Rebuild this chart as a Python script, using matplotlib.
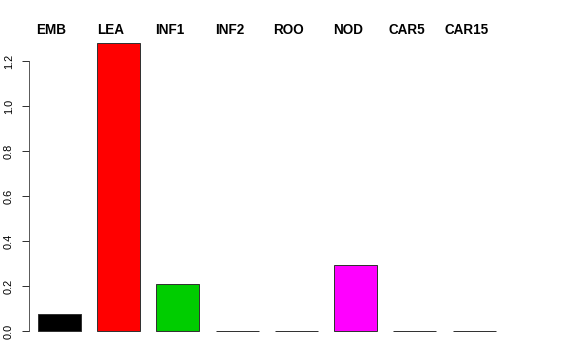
import numpy as np
import matplotlib.pyplot as plt

plt.rcParams['font.family'] = ['Liberation Sans', 'DejaVu Sans']

groups = ["EMB", "LEA", "INF1", "INF2", "ROO", "NOD", "CAR5", "CAR15"]
values = [0.075, 1.28, 0.207, 0.0, 0.0, 0.295, 0.0, 0.0]
colors = ["black", "red", "#00CD00", "blue", "cyan", "magenta", "yellow", "gray"]
yticks = [0.0, 0.2, 0.4, 0.6, 0.8, 1.0, 1.2]

W, H = 576, 360
fig = plt.figure(figsize=(W / 72, H / 72), dpi=72)
# axes placed in pixel terms (R barplot look)
left, right, top, bottom = 29, 528, 20, 345
ax = fig.add_axes([left / W, (H - bottom) / H, (right - left) / W, (bottom - top) / H])

x = 0.7 + 1.2 * np.arange(len(groups))
ax.bar(x, values, width=0.87, color=colors, edgecolor="#333333", linewidth=1.0)

ax.set_xlim(0.082, 0.082 + (right - left) / 49.35)
ax.set_ylim(-14 / 225, (331 - top) / 225)

for s in ["top", "right", "bottom"]:
    ax.spines[s].set_visible(False)
ax.spines["left"].set_bounds(0, 1.2)
ax.spines["left"].set_color("#333333")
ax.set_xticks([])
ax.set_yticks(yticks)
ax.set_yticklabels([f"{t:.1f}" for t in yticks], rotation=90, va="center", fontsize=11)
ax.tick_params(axis="y", length=7, width=1, pad=8, color="#333333")

for xi, g in zip(x, groups):
    ax.text(xi - 0.16, (331 - 34) / 225, g, ha="center", va="baseline",
            fontsize=13.5, fontweight="bold", clip_on=False)

fig.savefig("out.png", dpi=72)
